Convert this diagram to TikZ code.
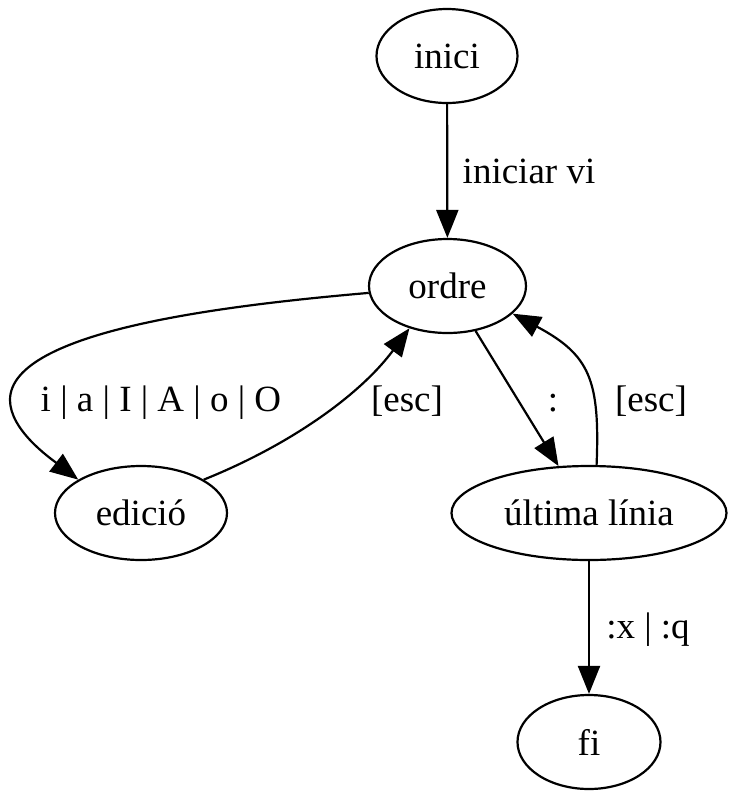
\documentclass[tikz,border=0pt]{standalone}
\usepackage{fontspec}
\setmainfont{Liberation Serif}
\usetikzlibrary{shapes.geometric,arrows.meta}

\tikzset{
  estat/.style={draw,ellipse,line width=1.1pt,inner sep=0pt,minimum height=47pt},
  transicio/.style={line width=1.1pt,-{Triangle[length=14pt,width=11pt]}},
  etiqueta/.style={inner sep=0pt,anchor=base}
}

\begin{document}
\begin{tikzpicture}[x=0.5pt,y=-0.5pt,font=\fontsize{18.5}{22}\selectfont]
\useasboundingbox (0,0) rectangle (736,800);
% estats
\node[estat,minimum width=70.5pt] (inici) at (447,56) {inici};
\node[estat,minimum width=78.5pt] (ordre) at (447.5,286) {ordre};
\node[estat,minimum width=86pt] (edicio) at (141,513) {edició};
\node[estat,minimum width=137.5pt] (ultima) at (589,513) {última línia};
\node[estat,minimum width=71.5pt] (fi) at (589,742) {fi};
% transicions
\draw[transicio] (inici) -- (ordre);
\draw[transicio] (ordre.185) .. controls (230,305) and (10,330) .. (10,400)
  .. controls (10,430) and (50,458) .. (edicio.152);
\draw[transicio] (edicio.28) .. controls (290,445) and (360,395) .. (ordre.228);
\draw[transicio] (ordre.302) -- (ultima.123);
\draw[transicio] (ultima.81) .. controls (600,380) and (590,355) .. (ordre.337);
\draw[transicio] (ultima) -- (fi);
% etiquetes
\node[etiqueta] (linici) at (529,183) {iniciar vi};
\node[etiqueta] (ledicio) at (161,411) {i | a | I | A | o | O};
\node[etiqueta] (lesc1) at (407,411) {[esc]};
\node[etiqueta] (lultima) at (553,411) {:};
\node[etiqueta] (lesc2) at (651,411) {[esc]};
\node[etiqueta] (lfi) at (648,638) {:x | :q};
\end{tikzpicture}
\end{document}
